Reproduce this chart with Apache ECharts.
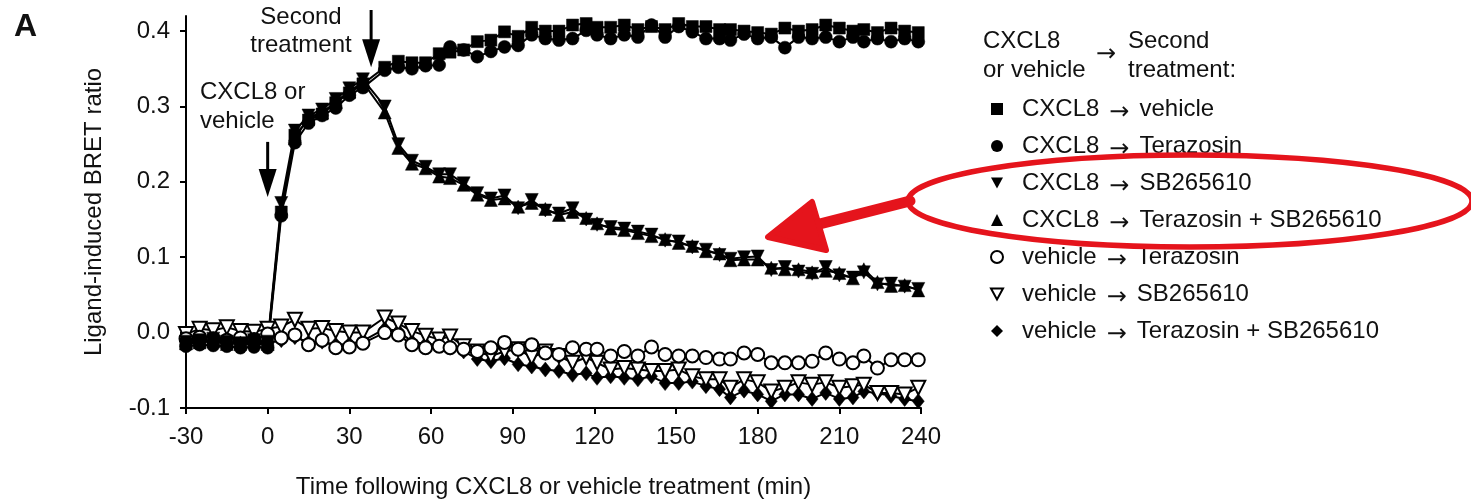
<!DOCTYPE html>
<html>
<head>
<meta charset="utf-8">
<script src="https://cdn.jsdelivr.net/npm/echarts@6/dist/echarts.min.js"></script>
<style>html,body{margin:0;padding:0;background:#fff}#main{width:1471px;height:499px}</style>
</head>
<body>
<div id="main"></div>
<script>
var FONT = '"Liberation Sans", Arial, sans-serif';
var ARROWFONT = '"DejaVu Sans", sans-serif';

// time points (min) - 5 min steps before 2nd treatment, ~4.9 min after
var times = [-30,-25,-20,-15,-10,-5,0,5,10,15,20,25,30,35,
  43,48,53,58,63,67,72,77,82,87,92,97,102,107,112,117,121,126,131,136,141,146,151,156,161,166,
  170,175,180,185,190,195,200,205,210,215,219,224,229,234,239];

var yTicks = [-0.1,0,0.1,0.2,0.3,0.4];

// CXCL8 -> vehicle
var cxVehicle = [-0.015,-0.012,-0.010,-0.013,-0.016,-0.012,-0.014,0.160,0.262,0.282,0.290,0.305,0.318,0.330,
  0.352,0.360,0.358,0.358,0.370,0.372,0.375,0.386,0.388,0.399,0.393,0.405,0.400,0.400,0.408,0.410,0.405,0.405,0.408,0.402,
  0.406,0.402,0.410,0.406,0.406,0.402,0.402,0.400,0.398,0.396,0.404,0.400,0.402,0.408,0.404,0.400,0.402,0.398,0.404,0.400,0.398];
// CXCL8 -> Terazosin
var cxTer = [-0.018,-0.016,-0.017,-0.018,-0.020,-0.019,-0.020,0.155,0.252,0.278,0.288,0.298,0.315,0.325,
  0.348,0.352,0.350,0.354,0.355,0.379,0.375,0.366,0.373,0.379,0.381,0.395,0.390,0.388,0.390,0.401,0.395,0.390,0.395,0.392,
  0.408,0.392,0.406,0.399,0.390,0.390,0.388,0.396,0.390,0.392,0.378,0.392,0.390,0.392,0.386,0.392,0.386,0.390,0.386,0.390,0.386];
// CXCL8 -> SB265610
var cxSB = [-0.012,-0.010,-0.008,-0.012,-0.014,-0.010,-0.012,0.172,0.268,0.288,0.296,0.310,0.324,0.336,
  0.300,0.250,0.228,0.220,0.210,0.210,0.198,0.185,0.178,0.182,0.165,0.176,0.162,0.158,0.165,0.150,0.143,0.140,0.138,0.134,
  0.130,0.122,0.121,0.113,0.110,0.103,0.098,0.100,0.101,0.083,0.087,0.081,0.078,0.087,0.076,0.073,0.080,0.064,0.065,0.061,0.058];
// CXCL8 -> Terazosin + SB265610
var cxTerSB = [-0.014,-0.013,-0.011,-0.015,-0.013,-0.011,-0.015,0.165,0.258,0.285,0.292,0.306,0.320,0.332,
  0.292,0.245,0.224,0.218,0.207,0.205,0.196,0.183,0.176,0.178,0.167,0.172,0.164,0.156,0.160,0.152,0.145,0.138,0.136,0.132,
  0.128,0.124,0.119,0.115,0.108,0.105,0.096,0.097,0.097,0.086,0.084,0.084,0.080,0.082,0.079,0.072,0.084,0.067,0.062,0.063,0.056];
// vehicle -> Terazosin
var vehTer = [-0.008,-0.006,-0.008,-0.010,-0.007,-0.009,-0.002,-0.007,-0.003,-0.016,-0.010,-0.020,-0.019,-0.014,
  0.000,-0.003,-0.016,-0.020,-0.018,-0.020,-0.022,-0.025,-0.020,-0.013,-0.022,-0.016,-0.027,-0.029,-0.020,-0.022,-0.022,-0.031,-0.025,-0.031,
  -0.019,-0.029,-0.031,-0.031,-0.033,-0.035,-0.035,-0.027,-0.029,-0.040,-0.040,-0.040,-0.038,-0.027,-0.035,-0.040,-0.031,-0.047,-0.036,-0.036,-0.036];
// vehicle -> SB265610
var vehSB = [-0.002,0.005,0.003,0.007,0.002,0.001,0.005,0.008,0.017,0.005,0.006,0.002,0.000,0.000,
  0.020,0.012,0.002,-0.004,-0.009,-0.005,-0.018,-0.025,-0.031,-0.025,-0.022,-0.033,-0.025,-0.031,-0.040,-0.033,-0.040,-0.049,-0.047,-0.049,
  -0.051,-0.051,-0.049,-0.058,-0.062,-0.062,-0.073,-0.062,-0.066,-0.078,-0.073,-0.066,-0.069,-0.066,-0.073,-0.071,-0.069,-0.080,-0.080,-0.082,-0.073];
// vehicle -> Terazosin + SB265610
var vehTerSB = [-0.012,-0.010,-0.013,-0.012,-0.015,-0.016,-0.014,-0.010,-0.006,-0.013,-0.012,-0.016,-0.015,-0.011,
  0.005,0.002,-0.012,-0.015,-0.016,-0.020,-0.025,-0.035,-0.038,-0.034,-0.042,-0.045,-0.049,-0.051,-0.056,-0.054,-0.060,-0.058,-0.060,-0.062,
  -0.058,-0.067,-0.067,-0.065,-0.071,-0.075,-0.086,-0.077,-0.082,-0.091,-0.082,-0.082,-0.088,-0.080,-0.088,-0.086,-0.078,-0.080,-0.084,-0.088,-0.091];

var names = ['CXCL8 → vehicle','CXCL8 → Terazosin','CXCL8 → SB265610','CXCL8 → Terazosin + SB265610',
  'vehicle → Terazosin','vehicle → SB265610','vehicle → Terazosin + SB265610'];

var downTri = 'path://M0,0L10,0L5,9Z';

function pairs(vals){
  return times.map(function(t,i){ return [t, vals[i]]; });
}

function mk(name, vals, symbol, size, rotate, open){
  return {
    name: name, type: 'line', data: pairs(vals),
    symbol: symbol, symbolSize: size, symbolRotate: rotate,
    showAllSymbol: true, animation: false,
    lineStyle: {color: '#000', width: 2},
    itemStyle: open ? {color: '#fff', borderColor: '#000', borderWidth: 2} : {color: '#000', borderColor: '#000', borderWidth: 0.5},
    emphasis: {disabled: true}
  };
}

var chart = echarts.init(document.getElementById('main'));

var option = {
  backgroundColor: '#fff',
  animation: false,
  textStyle: {fontFamily: FONT},
  grid: {left: 186, right: 550, top: 16, bottom: 91, outerBoundsMode: 'none', containLabel: false},
  xAxis: {
    type: 'value', min: -30, max: 240, interval: 30,
    name: 'Time following CXCL8 or vehicle treatment (min)',
    nameLocation: 'middle', nameGap: 67,
    nameTextStyle: {fontSize: 24, color: '#111', fontFamily: FONT},
    axisLine: {show: true, onZero: false, lineStyle: {color: '#000', width: 2}},
    axisTick: {show: true, inside: false, length: 6, lineStyle: {color: '#000', width: 2}},
    axisLabel: {fontSize: 24, color: '#111', margin: 17, fontFamily: FONT},
    splitLine: {show: false}
  },
  yAxis: {
    type: 'value', min: -0.1, max: 0.42,
    name: 'Ligand-induced BRET ratio',
    nameLocation: 'middle', nameGap: 80, nameRotate: 90,
    nameTextStyle: {fontSize: 24, color: '#111', fontFamily: FONT},
    axisLine: {show: true, onZero: false, lineStyle: {color: '#000', width: 2}},
    axisTick: {show: true, length: 6, lineStyle: {color: '#000', width: 2}, customValues: yTicks},
    axisLabel: {fontSize: 24, color: '#111', margin: 16, fontFamily: FONT, customValues: yTicks,
      formatter: function(v){ return (Math.abs(v) < 1e-9 ? 0 : v).toFixed(1); }},
    splitLine: {show: false}
  },
  legend: {
    orient: 'vertical', left: 985, top: 88,
    itemWidth: 12, itemHeight: 12, itemGap: 5,
    selectedMode: false,
    formatter: function(n){
      var p = n.split(' → ');
      return p[0] + '{a|→}' + p[1];
    },
    textStyle: {fontSize: 24, lineHeight: 26, color: '#111', fontFamily: FONT, padding: [0, 0, 0, 14],
      rich: {a: {fontSize: 24, fontFamily: ARROWFONT, color: '#111', lineHeight: 18, padding: [8, 10, 0, 10]}}},
    data: [
      {name: names[0], icon: 'rect', itemStyle: {color: '#000', borderWidth: 0}},
      {name: names[1], icon: 'circle', itemStyle: {color: '#000', borderWidth: 0}},
      {name: names[2], icon: downTri, itemStyle: {color: '#000', borderWidth: 0}},
      {name: names[3], icon: 'triangle', itemStyle: {color: '#000', borderWidth: 0}},
      {name: names[4], icon: 'circle', itemStyle: {color: '#fff', borderColor: '#000', borderWidth: 2}},
      {name: names[5], icon: downTri, itemStyle: {color: '#fff', borderColor: '#000', borderWidth: 2}},
      {name: names[6], icon: 'diamond', itemStyle: {color: '#000', borderWidth: 0}}
    ]
  },
  series: [
    mk(names[6], vehTerSB, 'diamond', [12, 15], 0, false),
    mk(names[5], vehSB, 'triangle', 14, 180, true),
    mk(names[4], vehTer, 'circle', 13, 0, true),
    mk(names[0], cxVehicle, 'rect', 12, 0, false),
    mk(names[1], cxTer, 'circle', 13, 0, false),
    mk(names[3], cxTerSB, 'triangle', 13, 0, false),
    mk(names[2], cxSB, 'triangle', 13, 180, false)
  ]
};
chart.setOption(option);

// annotation arrows, placed in data space: [time, from value, tip value]
var arrows = [[0, 0.253, 0.180], [38, 0.428, 0.352]];
var gfx = [];
arrows.forEach(function(a){
  var p0 = chart.convertToPixel({gridIndex: 0}, [a[0], a[1]]);
  var p1 = chart.convertToPixel({gridIndex: 0}, [a[0], a[2]]);
  var x = p0[0];
  gfx.push({type: 'line', shape: {x1: x, y1: p0[1], x2: x, y2: p1[1] - 26}, style: {stroke: '#000', lineWidth: 3}});
  gfx.push({type: 'polygon', shape: {points: [[x - 9, p1[1] - 28], [x + 9, p1[1] - 28], [x, p1[1]]]}, style: {fill: '#000'}});
});

function txt(x, y, s, align, size, weight, fam){
  return {type: 'text', x: x, y: y, style: {text: s, fill: '#111', font: (weight || 'normal') + ' ' + (size || 24) + 'px ' + (fam || FONT),
    textAlign: align || 'left', textVerticalAlign: 'middle'}};
}
gfx.push(txt(14, 27, 'A', 'left', 32, 'bold'));
gfx.push(txt(301, 17, 'Second', 'center'));
gfx.push(txt(301, 45, 'treatment', 'center'));
gfx.push(txt(200, 92, 'CXCL8 or'));
gfx.push(txt(200, 121, 'vehicle'));
gfx.push(txt(983, 41, 'CXCL8'));
gfx.push(txt(983, 70, 'or vehicle'));
gfx.push(txt(1096, 55, '→', 'left', 24, 'normal', ARROWFONT));
gfx.push(txt(1128, 41, 'Second'));
gfx.push(txt(1128, 70, 'treatment:'));

// red overlay marking
gfx.push({type: 'ellipse', shape: {cx: 1190, cy: 201, rx: 282, ry: 46}, style: {fill: 'none', stroke: '#e5141c', lineWidth: 5.5}, z: 100});
gfx.push({type: 'line', shape: {x1: 910, y1: 201, x2: 800, y2: 229}, style: {stroke: '#e5141c', lineWidth: 11, lineCap: 'round'}, z: 100});
gfx.push({type: 'polygon', shape: {points: [[768, 237], [812, 202], [826, 250]]}, style: {fill: '#e5141c', stroke: '#e5141c', lineWidth: 6, lineJoin: 'round'}, z: 100});

chart.setOption({graphic: gfx});
</script>
</body>
</html>
